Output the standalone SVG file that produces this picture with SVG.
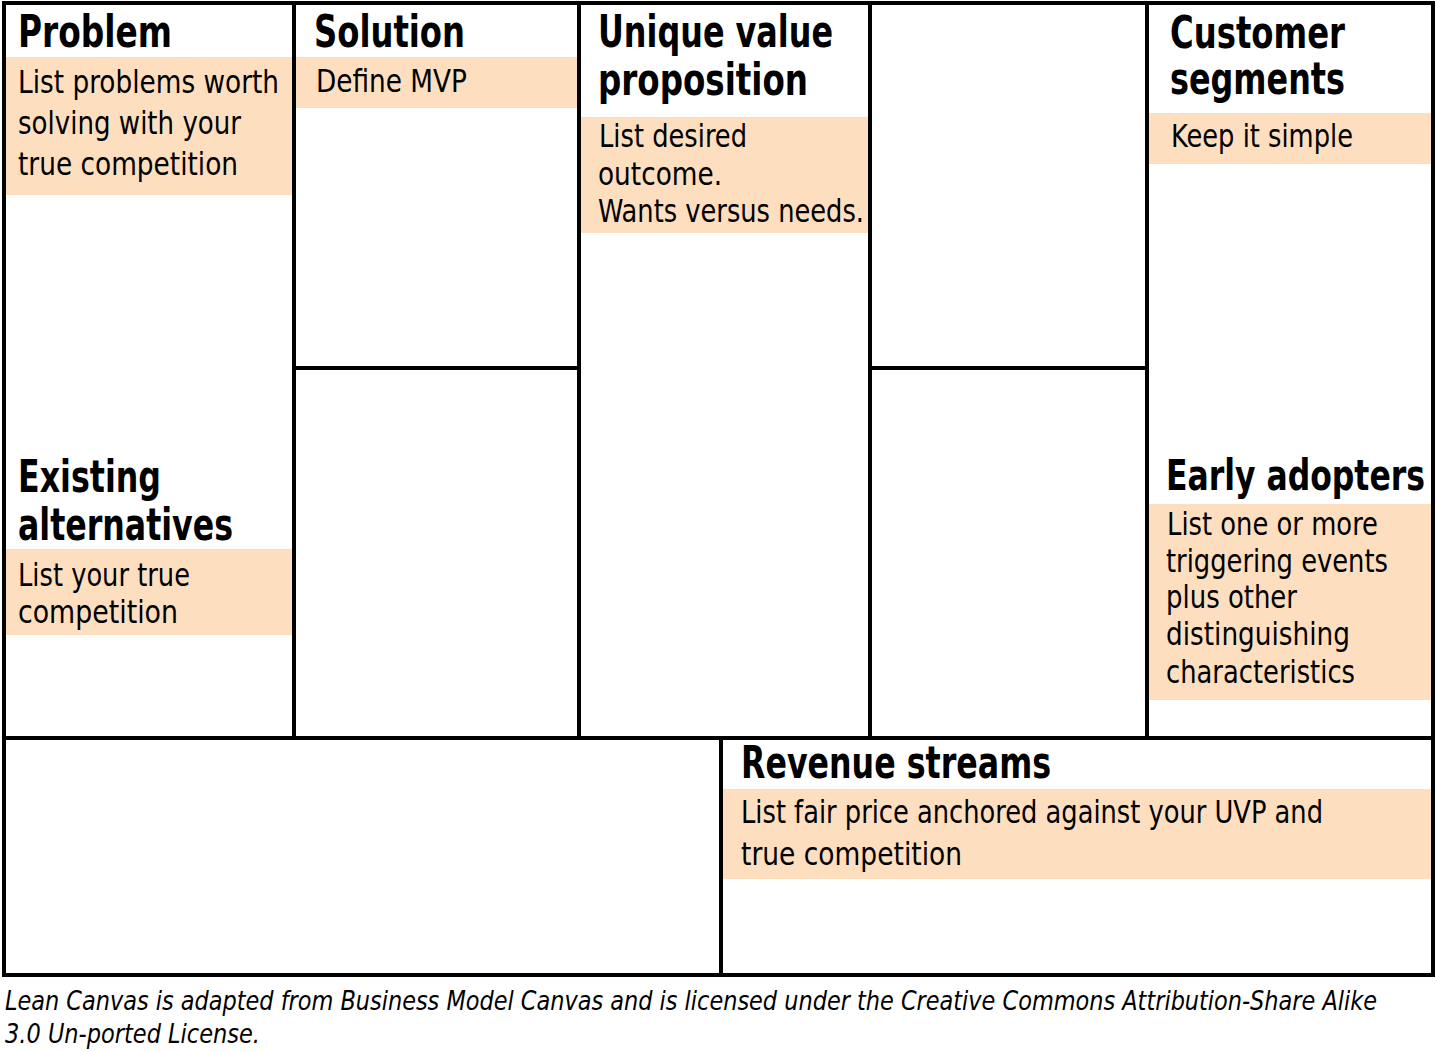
<svg xmlns="http://www.w3.org/2000/svg" width="1437" height="1052" viewBox="0 0 1437 1052">
<style>
text{font-family:"DejaVu Sans Condensed","DejaVu Sans","Liberation Sans",sans-serif;font-stretch:condensed;fill:#000}
.t{font-size:45px;font-weight:bold}
.t2{font-size:42px;font-weight:bold}
.b{font-size:32px}
.f{font-size:27px;font-style:italic}
.band{fill:#FDDFBF}
.ln{stroke:#000;stroke-width:4;fill:none}
</style>
<rect width="1437" height="1052" fill="#fff"/>
<g id="problem">
<rect class="band" x="6" y="57" width="286" height="138"/>
<text class="t" x="18" y="47" textLength="154" lengthAdjust="spacingAndGlyphs">Problem</text>
<text class="b" x="18" y="93" textLength="261" lengthAdjust="spacingAndGlyphs">List problems worth</text>
<text class="b" x="18" y="134" textLength="223" lengthAdjust="spacingAndGlyphs">solving with your</text>
<text class="b" x="18" y="175" textLength="220" lengthAdjust="spacingAndGlyphs">true competition</text>
</g>
<g id="existing-alternatives">
<rect class="band" x="6" y="549" width="286" height="86"/>
<text class="t" x="18" y="492" textLength="143" lengthAdjust="spacingAndGlyphs">Existing</text>
<text class="t" x="18" y="540" textLength="215" lengthAdjust="spacingAndGlyphs">alternatives</text>
<text class="b" x="18" y="586" textLength="172" lengthAdjust="spacingAndGlyphs">List your true</text>
<text class="b" x="18" y="623" textLength="160" lengthAdjust="spacingAndGlyphs">competition</text>
</g>
<g id="solution">
<rect class="band" x="296" y="57" width="281" height="51"/>
<text class="t" x="314" y="47" textLength="151" lengthAdjust="spacingAndGlyphs">Solution</text>
<text class="b" x="316" y="92" textLength="151" lengthAdjust="spacingAndGlyphs">Define MVP</text>
</g>
<g id="unique-value-proposition">
<rect class="band" x="581" y="117" width="287" height="116"/>
<text class="t" x="598" y="47" textLength="235" lengthAdjust="spacingAndGlyphs">Unique value</text>
<text class="t" x="598" y="95" textLength="210" lengthAdjust="spacingAndGlyphs">proposition</text>
<text class="b" x="599" y="147" textLength="148" lengthAdjust="spacingAndGlyphs">List desired</text>
<text class="b" x="598" y="185" textLength="124" lengthAdjust="spacingAndGlyphs">outcome.</text>
<text class="b" x="598" y="222" textLength="266" lengthAdjust="spacingAndGlyphs">Wants versus needs.</text>
</g>
<g id="customer-segments">
<rect class="band" x="1149" y="113" width="283" height="51"/>
<text class="t" x="1170" y="48" textLength="175" lengthAdjust="spacingAndGlyphs">Customer</text>
<text class="t" x="1170" y="94" textLength="175" lengthAdjust="spacingAndGlyphs">segments</text>
<text class="b" x="1171" y="147" textLength="182" lengthAdjust="spacingAndGlyphs">Keep it simple</text>
</g>
<g id="early-adopters">
<rect class="band" x="1149" y="504" width="283" height="196"/>
<text class="t2" x="1166" y="490" textLength="259" lengthAdjust="spacingAndGlyphs">Early adopters</text>
<text class="b" x="1167" y="535" textLength="211" lengthAdjust="spacingAndGlyphs">List one or more</text>
<text class="b" x="1166" y="572" textLength="222" lengthAdjust="spacingAndGlyphs">triggering events</text>
<text class="b" x="1166" y="608" textLength="131" lengthAdjust="spacingAndGlyphs">plus other</text>
<text class="b" x="1166" y="645" textLength="184" lengthAdjust="spacingAndGlyphs">distinguishing</text>
<text class="b" x="1166" y="683" textLength="189" lengthAdjust="spacingAndGlyphs">characteristics</text>
</g>
<g id="revenue-streams">
<rect class="band" x="723" y="789" width="709" height="90"/>
<text class="t" x="741" y="778" textLength="310" lengthAdjust="spacingAndGlyphs">Revenue streams</text>
<text class="b" x="741" y="823" textLength="582" lengthAdjust="spacingAndGlyphs">List fair price anchored against your UVP and</text>
<text class="b" x="741" y="865" textLength="221" lengthAdjust="spacingAndGlyphs">true competition</text>
</g>
<g id="grid-lines">
<rect class="ln" x="4" y="3" width="1429" height="735"/>
<line class="ln" x1="294" y1="3" x2="294" y2="738"/>
<line class="ln" x1="579" y1="3" x2="579" y2="738"/>
<line class="ln" x1="870" y1="3" x2="870" y2="738"/>
<line class="ln" x1="1147" y1="3" x2="1147" y2="738"/>
<line class="ln" x1="294" y1="368" x2="579" y2="368"/>
<line class="ln" x1="870" y1="368" x2="1147" y2="368"/>
<rect class="ln" x="4" y="738" width="1429" height="237"/>
<line class="ln" x1="721" y1="738" x2="721" y2="975"/>
</g>
<g id="footer">
<text class="f" x="5" y="1010" textLength="1372" lengthAdjust="spacingAndGlyphs">Lean Canvas is adapted from Business Model Canvas and is licensed under the Creative Commons Attribution-Share Alike</text>
<text class="f" x="5" y="1043" textLength="255" lengthAdjust="spacingAndGlyphs">3.0 Un-ported License.</text>
</g>
</svg>
